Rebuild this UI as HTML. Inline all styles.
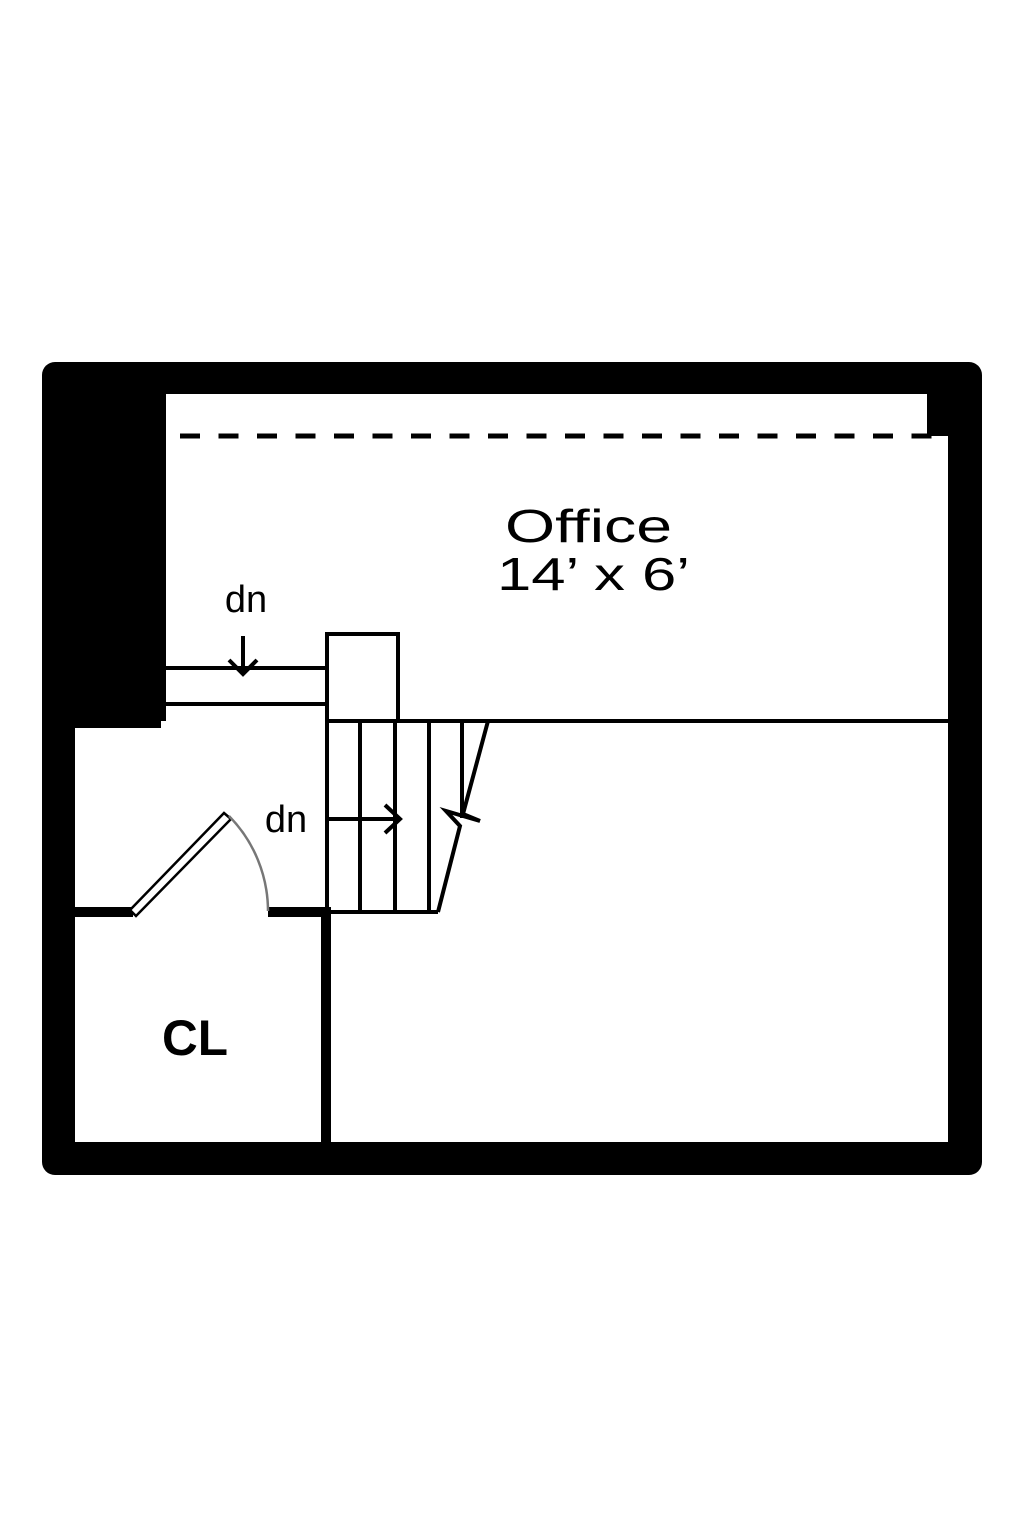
<!DOCTYPE html>
<html><head><meta charset="utf-8"><style>
html,body{margin:0;padding:0;background:#fff;}
svg{display:block;}
text{font-family:"Liberation Sans",sans-serif;fill:#000;}
</style></head><body>
<svg width="1024" height="1536" viewBox="0 0 1024 1536" xmlns="http://www.w3.org/2000/svg">
<rect x="0" y="0" width="1024" height="1536" fill="#fff"/>
<rect x="42" y="362" width="940" height="813" rx="13" fill="#000"/>
<path d="M166 394 H927 V436 H948 V1142 H75 V728 H161 V721 H166 Z" fill="#fff"/>
<line x1="180" y1="436" x2="932" y2="436" stroke="#000" stroke-width="5" stroke-dasharray="20 18.5"/>
<line x1="166" y1="668" x2="327" y2="668" stroke="#000" stroke-width="4"/>
<line x1="166" y1="704" x2="327" y2="704" stroke="#000" stroke-width="4"/>
<path d="M327 721 V634 H398 V721" fill="none" stroke="#000" stroke-width="4"/>
<line x1="327" y1="721" x2="948" y2="721" stroke="#000" stroke-width="4"/>
<g stroke="#000" stroke-width="4" fill="none">
<line x1="327" y1="721" x2="327" y2="912"/>
<line x1="360" y1="721" x2="360" y2="912"/>
<line x1="395" y1="721" x2="395" y2="912"/>
<line x1="429" y1="721" x2="429" y2="912"/>
<line x1="462" y1="721" x2="462" y2="818"/>
<line x1="327" y1="912" x2="438" y2="912"/>
<polyline points="488,721 463,814 480,821 446,811 460,826 438,912"/>
<line x1="327" y1="819" x2="400" y2="819"/>
<polyline points="385,805 400,819 385,833"/>
<line x1="243" y1="636" x2="243" y2="674"/>
<polyline points="229,660 243,674 257,660"/>
</g>
<rect x="75" y="907" width="58" height="10" fill="#000"/>
<rect x="268" y="907" width="63" height="10" fill="#000"/>
<rect x="321" y="907" width="10" height="236" fill="#000"/>
<path d="M130 910 L224 813 L231 819 L136 916 Z" fill="#fff" stroke="#000" stroke-width="2.5"/>
<path d="M229 816 A136 136 0 0 1 268 911" fill="none" stroke="#777" stroke-width="2.5"/>
<text x="246" y="612" font-size="38" text-anchor="middle">dn</text>
<text x="286" y="832" font-size="38" text-anchor="middle">dn</text>
<text x="505" y="542" font-size="46" textLength="167" lengthAdjust="spacingAndGlyphs">Office</text>
<text x="497" y="590" font-size="46" textLength="193" lengthAdjust="spacingAndGlyphs">14’ x 6’</text>
<text x="162" y="1055" font-size="50" font-weight="bold" textLength="66" lengthAdjust="spacingAndGlyphs">CL</text>
</svg>
</body></html>
